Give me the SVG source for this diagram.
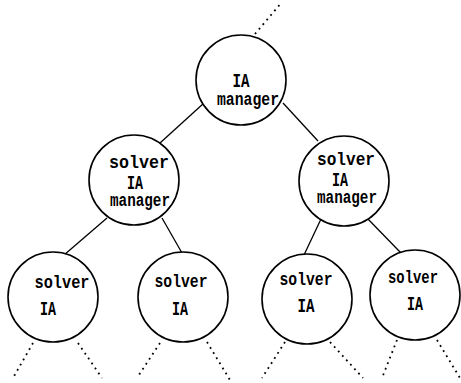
<svg xmlns="http://www.w3.org/2000/svg" width="461" height="383" viewBox="0 0 461 383">
  <style>
    .node circle { fill: #ffffff; stroke: #000000; stroke-width: 1.6; }
    .node text { font-family: "Liberation Mono", "DejaVu Sans Mono", monospace; font-weight: bold; font-size: 18px; fill: #000000; }
    .node text.big { font-size: 20px; }
    .edge { stroke: #000000; stroke-width: 1.3; fill: none; }
    .dots { stroke: #000000; stroke-width: 1.8; fill: none; stroke-dasharray: 1.8 4.2; }
  </style>
  <rect width="461" height="383" fill="#ffffff"/>

  <!-- connectors -->
  <g id="connectors">
    <line class="dots" x1="255" y1="34" x2="282" y2="2"/>
    <line class="edge" x1="204" y1="103" x2="160" y2="143"/>
    <line class="edge" x1="283" y1="103" x2="318" y2="141"/>
    <line class="edge" x1="107" y1="218" x2="64" y2="255"/>
    <line class="edge" x1="162" y1="218" x2="182" y2="253"/>
    <line class="edge" x1="321" y1="219" x2="304" y2="255"/>
    <line class="edge" x1="366" y1="217" x2="401" y2="253"/>
    <!-- open branches below the leaves -->
    <line class="dots" x1="33" y1="343" x2="13" y2="378"/>
    <line class="dots" x1="78" y1="343" x2="102" y2="378"/>
    <line class="dots" x1="160" y1="343" x2="137" y2="378"/>
    <line class="dots" x1="207" y1="342" x2="230" y2="380"/>
    <line class="dots" x1="285" y1="342" x2="262" y2="378"/>
    <line class="dots" x1="330" y1="342" x2="363" y2="378"/>
    <line class="dots" x1="397" y1="340" x2="382" y2="378"/>
    <line class="dots" x1="437" y1="340" x2="460" y2="378"/>
  </g>

  <!-- root -->
  <g id="root" class="node">
    <circle cx="241" cy="80" r="45"/>
    <text class="big" x="241" y="87" text-anchor="middle" textLength="17" lengthAdjust="spacingAndGlyphs">IA</text>
    <text x="248" y="105" text-anchor="middle" textLength="62" lengthAdjust="spacingAndGlyphs">manager</text>
  </g>

  <!-- second level -->
  <g id="mid-left" class="node">
    <circle cx="134" cy="180" r="45"/>
    <text x="139" y="168" text-anchor="middle" textLength="60" lengthAdjust="spacingAndGlyphs">solver</text>
    <text class="big" x="135" y="189" text-anchor="middle" textLength="16" lengthAdjust="spacingAndGlyphs">IA</text>
    <text x="140" y="206" text-anchor="middle" textLength="60" lengthAdjust="spacingAndGlyphs">manager</text>
  </g>
  <g id="mid-right" class="node">
    <circle cx="344" cy="181" r="45"/>
    <text x="346" y="165" text-anchor="middle" textLength="58" lengthAdjust="spacingAndGlyphs">solver</text>
    <text class="big" x="340" y="186" text-anchor="middle" textLength="16" lengthAdjust="spacingAndGlyphs">IA</text>
    <text x="347" y="203" text-anchor="middle" textLength="60" lengthAdjust="spacingAndGlyphs">manager</text>
  </g>

  <!-- leaves -->
  <g id="leaf-1" class="node">
    <circle cx="53" cy="297" r="45"/>
    <text x="62" y="288" text-anchor="middle" textLength="55" lengthAdjust="spacingAndGlyphs">solver</text>
    <text class="big" x="48" y="315" text-anchor="middle" textLength="16" lengthAdjust="spacingAndGlyphs">IA</text>
  </g>
  <g id="leaf-2" class="node">
    <circle cx="183" cy="297" r="45"/>
    <text x="181" y="287" text-anchor="middle" textLength="53" lengthAdjust="spacingAndGlyphs">solver</text>
    <text class="big" x="180" y="315" text-anchor="middle" textLength="16" lengthAdjust="spacingAndGlyphs">IA</text>
  </g>
  <g id="leaf-3" class="node">
    <circle cx="307" cy="299" r="45"/>
    <text x="306" y="285" text-anchor="middle" textLength="53" lengthAdjust="spacingAndGlyphs">solver</text>
    <text class="big" x="306" y="312" text-anchor="middle" textLength="17" lengthAdjust="spacingAndGlyphs">IA</text>
  </g>
  <g id="leaf-4" class="node">
    <circle cx="415" cy="295" r="45"/>
    <text x="413" y="283" text-anchor="middle" textLength="50" lengthAdjust="spacingAndGlyphs">solver</text>
    <text class="big" x="415" y="310" text-anchor="middle" textLength="16" lengthAdjust="spacingAndGlyphs">IA</text>
  </g>
</svg>
